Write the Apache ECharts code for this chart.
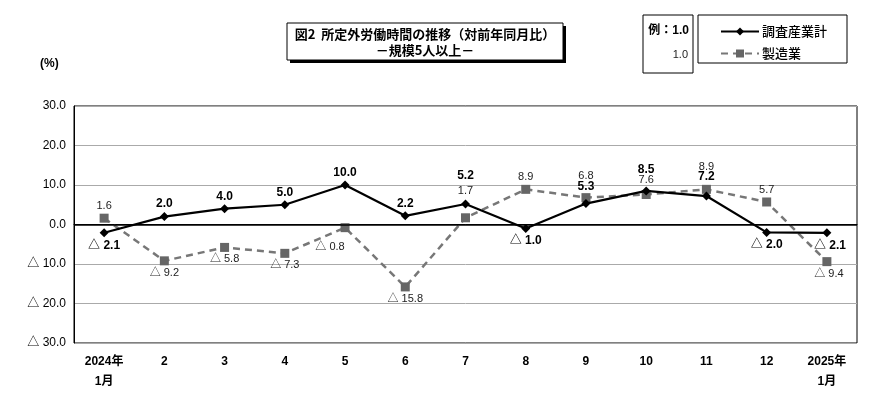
<!DOCTYPE html>
<html><head><meta charset="utf-8">
<script src="https://cdn.jsdelivr.net/npm/echarts@6/dist/echarts.min.js"></script>
<style>html,body{margin:0;padding:0;background:#fff}#c{width:890px;height:394px}</style>
</head><body><div id="c"></div>
<script>
var categories = ['2024年\n1月','2','3','4','5','6','7','8','9','10','11','12','2025年\n1月'];
var totalName = '調査産業計';
var mfgName = '製造業';
var totalValues = [-2.1, 2.0, 4.0, 5.0, 10.0, 2.2, 5.2, -1.0, 5.3, 8.5, 7.2, -2.0, -2.1];
var mfgValues = [1.6, -9.2, -5.8, -7.3, -0.8, -15.8, 1.7, 8.9, 6.8, 7.6, 8.9, 5.7, -9.4];
var yMin = -30, yMax = 30, yStep = 10;

var NUMF = '"Liberation Sans Narrow","Liberation Sans","Noto Sans CJK JP",sans-serif';
var JPF = '"Noto Sans CJK JP",sans-serif';

function fmt(v){ return v < 0 ? '△ ' + Math.abs(v).toFixed(1) : v.toFixed(1); }

// label offset tweaks (style only)
var totalOff = {6:[0,-16], 8:[0,-4], 9:[0,-9], 10:[0,-7], 12:[3,0]};
var mfgOff = {4:[-15,7], 6:[0,-15], 8:[0,-10], 9:[0,-3], 10:[0,-10], 12:[2,0]};

function build(vals, offs){
  return vals.map(function(v,i){
    var o = offs[i] || [0,0];
    return {value:v, label:{position: v<0?'bottom':'top', offset:o}};
  });
}

var chart = echarts.init(document.getElementById('c'));
chart.setOption({
  animation:false,
  backgroundColor:'#fff',
  grid:{left:74, right:33, top:106, bottom:51, show:true, borderColor:'#000', borderWidth:1},
  xAxis:{type:'category', data:categories, boundaryGap:true,
    axisLine:{show:true, lineStyle:{color:'#000'}}, axisTick:{show:false},
    axisLabel:{color:'#000', fontFamily:NUMF, fontSize:12, fontWeight:'bold', margin:9, lineHeight:20, verticalAlign:'top'}},
  yAxis:{type:'value', min:yMin, max:yMax, interval:yStep,
    axisLine:{show:true, lineStyle:{color:'#000'}}, axisTick:{show:false},
    splitLine:{lineStyle:{color:'#aaa', width:1}},
    axisLabel:{color:'#000', fontFamily:NUMF, fontSize:12, margin:8, formatter:function(v){return fmt(v);}}},
  legend:{left:715, top:20, orient:'vertical', itemGap:9, itemWidth:38, itemHeight:10,
    textStyle:{fontFamily:JPF, fontSize:13, fontWeight:500, color:'#000', padding:[0,0,0,-2]},
    data:[totalName, mfgName]},
  series:[
    {name:mfgName, type:'line', data:build(mfgValues, mfgOff), symbol:'rect', symbolSize:9,
      lineStyle:{color:'#777', width:2.5, type:[7,5]}, itemStyle:{color:'#666'},
      label:{show:true, distance:2, fontFamily:NUMF, fontSize:11, color:'#222', formatter:function(p){return fmt(p.value);}},
      z:3,
      markLine:{silent:true, symbol:'none', label:{show:false}, lineStyle:{color:'#000', width:1.5, type:'solid'}, data:[{yAxis:0}]}},
    {name:totalName, type:'line', data:build(totalValues, totalOff), symbol:'diamond', symbolSize:9,
      lineStyle:{color:'#000', width:2.2}, itemStyle:{color:'#000'},
      label:{show:true, distance:2, fontFamily:NUMF, fontSize:12, fontWeight:'bold', color:'#000', formatter:function(p){return fmt(p.value);}},
      z:4}
  ],
  graphic:[
    {type:'rect', shape:{x:290, y:26, width:276, height:37}, style:{fill:'#000'}, z:10},
    {type:'rect', shape:{x:287, y:23, width:276, height:37}, style:{fill:'#fff', stroke:'#000', lineWidth:1}, z:11},
    {type:'text', x:425, y:34, style:{text:'図2  所定外労働時間の推移（対前年同月比）', fontFamily:JPF, fontSize:13, fontWeight:'bold', fill:'#000', align:'center', verticalAlign:'middle'}, z:12},
    {type:'text', x:425, y:50, style:{text:'－規模5人以上－', fontFamily:JPF, fontSize:13, fontWeight:'bold', fill:'#000', align:'center', verticalAlign:'middle'}, z:12},
    {type:'rect', shape:{x:643, y:15, width:50, height:58}, style:{fill:'#fff', stroke:'#000', lineWidth:1}, z:1},
    {type:'text', x:689, y:31, style:{text:'例：1.0', fontFamily:NUMF, fontSize:12, fontWeight:'bold', fill:'#000', align:'right', verticalAlign:'middle'}, z:2},
    {type:'text', x:688, y:55, style:{text:'1.0', fontFamily:NUMF, fontSize:11, fill:'#222', align:'right', verticalAlign:'middle'}, z:2},
    {type:'rect', shape:{x:698, y:15, width:149, height:48}, style:{fill:'none', stroke:'#000', lineWidth:1}, z:1},
    {type:'text', x:40, y:64, style:{text:'(%)', fontFamily:NUMF, fontSize:12, fontWeight:'bold', fill:'#000', align:'left', verticalAlign:'middle'}}
  ]
});
</script></body></html>
